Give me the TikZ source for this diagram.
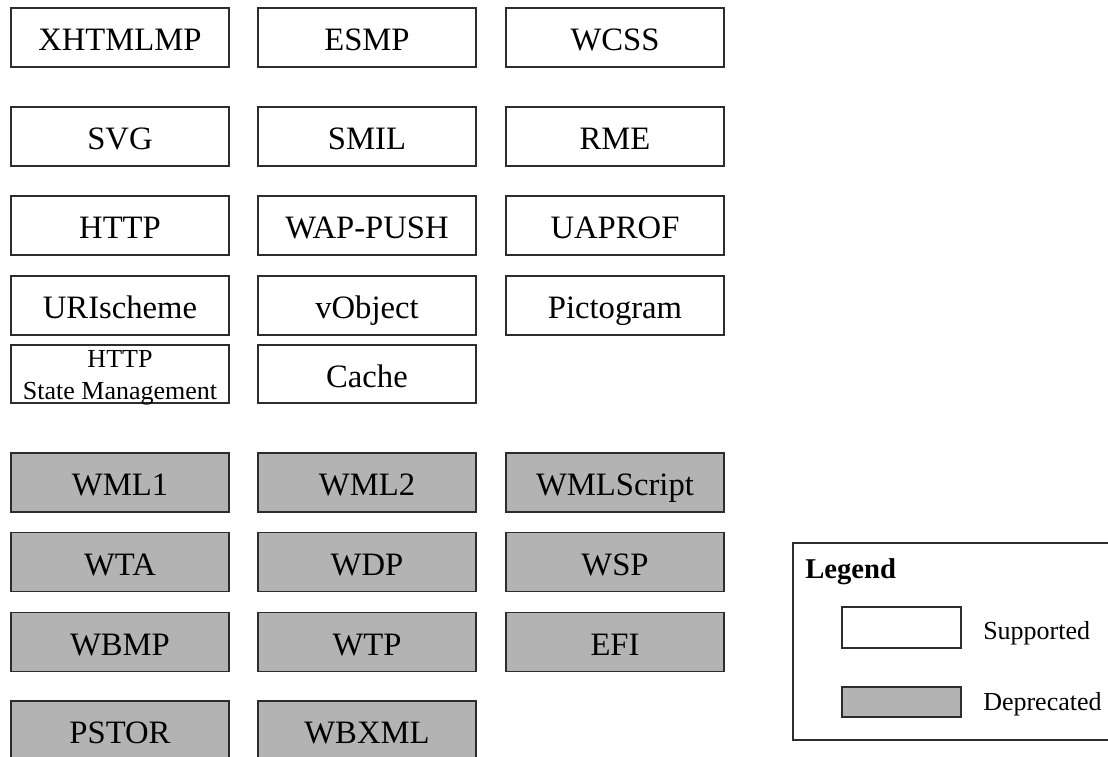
\documentclass[tikz,border=0pt]{standalone}
\usepackage{fontspec}
\setmainfont{Liberation Serif}
\definecolor{depgray}{RGB}{179,179,179}
\definecolor{edge}{RGB}{45,45,45}
\tikzset{
  spec/.style={draw=edge, line width=0.8pt, minimum width=218*0.75pt, minimum height=59*0.75pt,
    inner sep=0pt, font=\fontsize{24.5pt}{28pt}\selectfont, fill=white,
    text height=20pt, text depth=0pt},
  dep/.style={spec, fill=depgray},
  legtext/.style={font=\fontsize{19.5pt}{23pt}\selectfont, anchor=base west, inner sep=0pt},
}
\begin{document}
\begin{tikzpicture}[x=0.75pt,y=-0.75pt]
\clip (0,0) rectangle (1108,757);
\fill[white] (0,0) rectangle (1108,757);
% supported
\node[spec] (xhtml) at (120,37.5) {XHTMLMP};
\node[spec] (esmp) at (367,37.5) {ESMP};
\node[spec] (wcss) at (615,37.5) {WCSS};
\node[spec] (svg) at (120,136.5) {SVG};
\node[spec] (smil) at (367,136.5) {SMIL};
\node[spec] (rme) at (615,136.5) {RME};
\node[spec] (http) at (120,225.5) {HTTP};
\node[spec] (wappush) at (367,225.5) {WAP-PUSH};
\node[spec] (uaprof) at (615,225.5) {UAPROF};
\node[spec] (uri) at (120,305.5) {URIscheme};
\node[spec] (vobj) at (367,305.5) {vObject};
\node[spec] (picto) at (615,305.5) {Pictogram};
\node[spec, minimum height=58*0.75pt, align=center, text height=37.5pt, text depth=0pt, font=\fontsize{19.5pt}{23.3pt}\selectfont] (statemgmt) at (120,374) {HTTP\\State Management};
\node[spec, minimum height=58*0.75pt] (cache) at (367,374) {Cache};
% deprecated
\node[dep] (wml1) at (120,482.5) {WML1};
\node[dep] (wml2) at (367,482.5) {WML2};
\node[dep] (wmls) at (615,482.5) {WMLScript};
\node[dep] (wta) at (120,562) {WTA};
\node[dep] (wdp) at (367,562) {WDP};
\node[dep] (wsp) at (615,562) {WSP};
\node[dep] (wbmp) at (120,642) {WBMP};
\node[dep] (wtp) at (367,642) {WTP};
\node[dep] (efi) at (615,642) {EFI};
\node[dep] (pstor) at (120,730.5) {PSTOR};
\node[dep] (wbxml) at (367,730.5) {WBXML};
% legend
\draw[edge, line width=0.8pt] (793,543) rectangle (1125,740);
\node[anchor=base west, inner sep=0pt, font=\fontsize{21.5pt}{25pt}\selectfont\bfseries] (legtitle) at (805,578) {Legend};
\node[draw=edge, line width=0.8pt, fill=white, minimum width=119*0.75pt, minimum height=41*0.75pt, inner sep=0pt] (legsup) at (901.5,627.5) {};
\node[draw=edge, line width=0.8pt, fill=depgray, minimum width=119*0.75pt, minimum height=30*0.75pt, inner sep=0pt] (legdep) at (901.5,702) {};
\node[legtext] (supt) at (983,639) {Supported};
\node[legtext] (dept) at (983,710) {Deprecated};
\end{tikzpicture}
\end{document}
